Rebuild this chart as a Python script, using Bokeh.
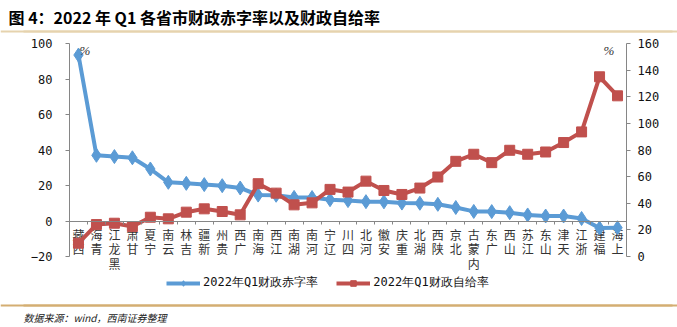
from bokeh.plotting import figure
from bokeh.models import (Range1d, LinearAxis, FixedTicker, Label, Legend, LegendItem,
                          ColumnDataSource, Span)
from bokeh.embed import file_html
from bokeh.resources import INLINE
from bokeh.core.properties import value

# ---------------- data ----------------
provinces = ["西藏", "青海", "黑龙江", "甘肃", "宁夏", "云南", "吉林", "新疆", "贵州", "广西",
             "海南", "江西", "湖南", "河南", "辽宁", "四川", "河北", "安徽", "重庆", "湖北",
             "陕西", "北京", "内蒙古", "广东", "山西", "江苏", "山东", "天津", "浙江", "福建", "上海"]
deficit_rate = [93.5, 37.0, 36.3, 35.6, 29.3, 21.8, 21.2, 20.5, 19.9, 18.6,
                14.6, 14.5, 13.3, 13.2, 12.0, 11.5, 10.9, 10.8, 10.1, 10.0,
                9.4, 7.6, 5.4, 5.3, 4.7, 3.4, 2.8, 2.8, 1.4, -4.0, -3.8]
self_sufficiency = [10.0, 24.0, 25.0, 22.5, 29.5, 28.3, 33.3, 35.8, 33.8, 31.3,
                    54.7, 47.6, 38.8, 40.3, 50.4, 48.4, 56.6, 49.6, 46.6, 51.4,
                    59.7, 71.5, 76.8, 70.5, 79.8, 76.8, 78.5, 85.6, 93.6, 135.0, 120.7]
left_ticks = [-20, 0, 20, 40, 60, 80, 100]
right_ticks = [0, 20, 40, 60, 80, 100, 120, 140, 160]
series_names = ["2022年Q1财政赤字率", "2022年Q1财政自给率"]
title_text = "图 4：2022 年 Q1 各省市财政赤字率以及财政自给率"
source_text = "数据来源：wind，西南证券整理"

BLUE = "#5B9BD5"
RED = "#C0504D"
AXIS = "#868686"
TAN = "#D4AE72"
CJK = "Noto Sans CJK SC"
MONO = "DejaVu Sans Mono"

# ---------------- layout constants (canvas px) ----------------
W, H = 677, 327
FL, FR = 69, 626       # x of left / right value axes
AX_T, AX_B = 43, 256   # y of axis top / bottom value
ROW0, ROW_STEP = 13, 14.5  # category label rows below the zero line

n = len(provinces)
idx = list(range(n))
bounds_x = [i + 0.5 for i in idx]

# one entry per character of each category label; read bottom to top
lab_x, lab_ch, lab_off = [], [], []
for i, name in enumerate(provinces):
    for k, ch in enumerate(reversed(name)):
        lab_x.append(i)
        lab_ch.append(ch)
        lab_off.append(ROW0 + k * ROW_STEP)

src = ColumnDataSource(dict(x=idx, deficit=deficit_rate, selfs=self_sufficiency))
lsrc = ColumnDataSource(dict(x=lab_x, y=[0] * len(lab_x), ch=lab_ch, off=lab_off))

per_cat = (FR - FL) / n
x_lo = -0.5 - FL / per_cat
x_hi = n - 0.5 + (W - FR) / per_cat
x_rng = Range1d(x_lo, x_hi)

def ext(lo, hi):
    per_px = (hi - lo) / (AX_B - AX_T)
    return lo - (H - AX_B) * per_px, hi + AX_T * per_px, per_px

yl_lo, yl_hi, per_px_left = ext(left_ticks[0], left_ticks[-1])
yr_lo, yr_hi, _ = ext(right_ticks[0], right_ticks[-1])
yl = Range1d(yl_lo, yl_hi)
yr = Range1d(yr_lo, yr_hi)

def dx(px):   # canvas px -> data x
    return float(x_lo + px / per_cat)

def dy(py):   # canvas px -> left-axis data y
    return float(yl_hi - py * per_px_left)

def sx(x):
    return x

def sy(y):
    return H - y

p = figure(width=W, height=H, x_range=x_rng, y_range=yl,
           x_axis_type=None, y_axis_type=None, output_backend="svg", toolbar_location=None,
           min_border=0)
p.outline_line_color = None
p.background_fill_color = "white"
p.border_fill_color = "white"
p.extra_y_ranges = {"right": yr}

def style_axis(ax):
    ax.axis_line_color = AXIS
    ax.major_tick_line_color = AXIS
    ax.minor_tick_line_color = None
    ax.major_tick_in = 0
    ax.major_tick_out = 4
    ax.major_label_text_font = MONO
    ax.major_label_text_font_size = "12px"
    ax.major_label_text_color = "#111111"

left = LinearAxis(ticker=FixedTicker(ticks=left_ticks), bounds=(left_ticks[0], left_ticks[-1]),
                  fixed_location=-0.5)
style_axis(left)
left.major_label_standoff = 13
p.add_layout(left, "left")

right = LinearAxis(y_range_name="right", ticker=FixedTicker(ticks=right_ticks),
                   bounds=(right_ticks[0], right_ticks[-1]), fixed_location=n - 0.5)
style_axis(right)
right.major_label_standoff = 7
p.add_layout(right, "right")

# category axis at value 0 with ticks at category boundaries (fixed-location axis)
cat_axis = LinearAxis(fixed_location=0, bounds=(-0.5, n - 0.5),
                      ticker=FixedTicker(ticks=[], minor_ticks=bounds_x))
cat_axis.axis_line_color = AXIS
cat_axis.major_tick_line_color = None
cat_axis.minor_tick_line_color = AXIS
cat_axis.minor_tick_in = 0
cat_axis.minor_tick_out = 3
p.add_layout(cat_axis, "below")

# category labels (stacked characters)
p.text(x="x", y="y", text="ch", source=lsrc, text_font=value(CJK), text_font_size="12px",
       text_align="center", text_baseline="middle", y_offset="off", text_color="#333333")

# series
bl = p.line("x", "deficit", source=src, line_color=BLUE, line_width=4)
bm = p.scatter("x", "deficit", source=src, marker="diamond", size=14, color=BLUE)
rl = p.line("x", "selfs", source=src, y_range_name="right", line_color=RED, line_width=4)
rm = p.scatter("x", "selfs", source=src, y_range_name="right", marker="square", size=10, color=RED)

legend = Legend(items=[LegendItem(label=series_names[0], renderers=[bl, bm]),
                       LegendItem(label=series_names[1], renderers=[rl, rm])],
                orientation="horizontal", location=(sx(166), sy(291)),
                border_line_color=None, background_fill_alpha=0, padding=0, margin=0,
                spacing=18, glyph_width=34, glyph_height=14, label_standoff=3,
                label_text_font=MONO, label_text_font_size="12px", label_height=14,
                label_text_color="#111111")
p.add_layout(legend)

# percent markers
for px_ in (79, 603):
    p.add_layout(Label(x=sx(px_), y=sy(50), x_units="screen", y_units="screen", text="%",
                       text_font="Liberation Serif", text_font_style="italic",
                       text_font_size="13px", text_baseline="middle", text_color="#333333"))

# decorative rules
def rule(py, color):
    ax = LinearAxis(fixed_location=dy(py), bounds=(dx(23), dx(672)),
                    ticker=FixedTicker(ticks=[]))
    ax.axis_line_color = color
    ax.axis_line_width = 2
    ax.major_tick_line_color = None
    ax.minor_tick_line_color = None
    p.add_layout(ax, "below")
    p.add_layout(Span(location=dy(py), dimension="width", line_color=color, line_width=2))

# title and underline
p.add_layout(Label(x=sx(8), y=sy(16), x_units="screen", y_units="screen", text=title_text,
                   text_font=CJK, text_font_style="bold", text_font_size="16px",
                   text_baseline="middle", text_color="#000000"))
rule(31, "#E6D3AE")

# footer
rule(305, TAN)
p.add_layout(Label(x=sx(23), y=sy(316.5), x_units="screen", y_units="screen", text=source_text,
                   text_font=CJK, text_font_style="italic", text_font_size="10px",
                   text_baseline="middle", text_color="#222222"))

open("out.html", "w").write(file_html(p, INLINE))
